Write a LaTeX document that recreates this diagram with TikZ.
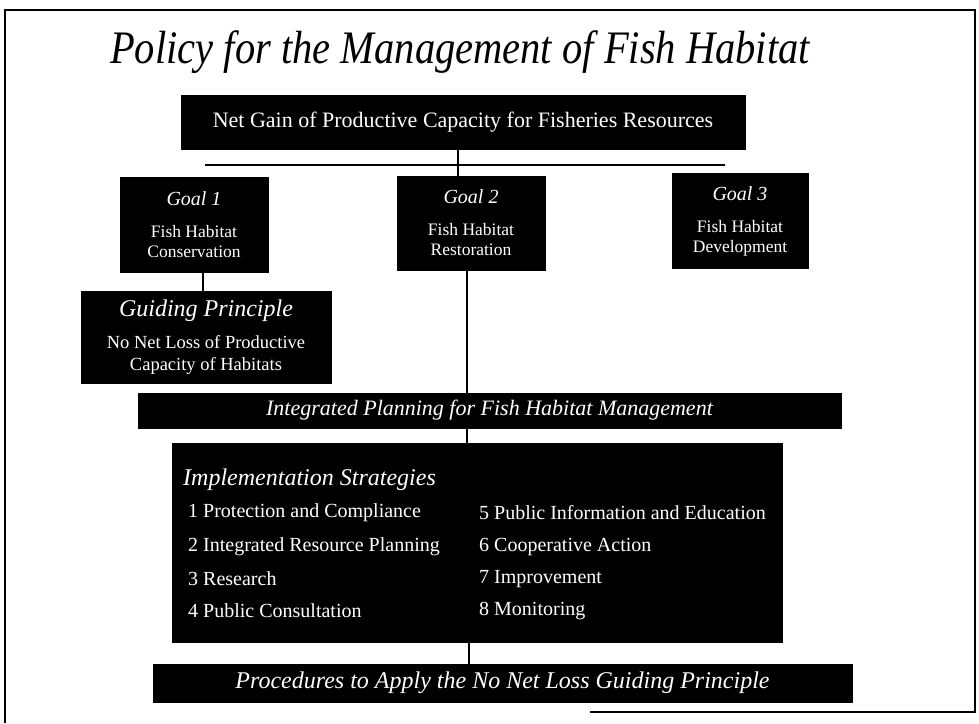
\documentclass[tikz,border=0pt]{standalone}
\usepackage{fontspec}
\setmainfont{Liberation Serif}
\tikzset{
  blk/.style={fill=black, draw=black, inner sep=0pt, text=white, align=center},
  itm/.style={anchor=west, text=white, inner sep=0pt, font=\fontsize{20}{22}\selectfont},
  link/.style={line width=1.3pt, draw=black},
  frm/.style={line width=1.5pt, draw=black},
}
\begin{document}
\begin{tikzpicture}[x=1pt,y=-1pt]
\useasboundingbox (0,0) rectangle (979,723);
\fill[white] (0,0) rectangle (979,723);
% frame
\coordinate (fTL) at (5,10);
\coordinate (fTR) at (975,10);
\coordinate (fBL) at (5,723);
\coordinate (fBR) at (975,712);
\coordinate (fBM) at (590,712);
\draw[frm] (fBL) -- (fTL) -- (fTR) -- (fBR) -- (fBM);
% title
\node[inner sep=0pt, font=\fontsize{40.5}{46}\selectfont\itshape, yscale=1.15] (title) at (460,52) {Policy for the Management of Fish Habitat};
% top box
\node[blk, minimum width=564pt, minimum height=54pt, font=\fontsize{22}{26}\selectfont] (top) at (463,122) {Net Gain of Productive Capacity for Fisheries Resources};
% goals
\node[blk, minimum width=148pt, minimum height=95pt, font=\fontsize{17.5}{20}\selectfont] (goal1) at (194,224.5)
  {{\fontsize{20}{22}\selectfont\itshape Goal 1}\\[12pt]Fish Habitat\\Conservation};
\node[blk, minimum width=148pt, minimum height=94pt, font=\fontsize{17.5}{20}\selectfont] (goal2) at (471,223)
  {{\fontsize{20}{22}\selectfont\itshape Goal 2}\\[12pt]Fish Habitat\\Restoration};
\node[blk, minimum width=136pt, minimum height=95pt, font=\fontsize{17.5}{20}\selectfont] (goal3) at (740,221)
  {{\fontsize{20}{22}\selectfont\itshape Goal 3}\\[12pt]Fish Habitat\\Development};
% guiding principle
\node[blk, minimum width=250pt, minimum height=92pt, font=\fontsize{18.5}{22}\selectfont] (guide) at (206,337)
  {{\fontsize{24}{26}\selectfont\itshape Guiding Principle}\\[10pt]No Net Loss of Productive\\Capacity of Habitats};
% integrated planning bar
\node[blk, minimum width=703pt, minimum height=35pt, font=\fontsize{22}{24}\selectfont\itshape] (integ) at (489.5,410.5)
  {Integrated Planning for Fish Habitat Management};
% implementation box
\node[blk, minimum width=610pt, minimum height=199pt] (impl) at (477,542.5) {};
\node[itm, font=\fontsize{24}{26}\selectfont\itshape] (ihead) at (183,480) {Implementation Strategies};
\node[itm] (s1) at (188,513) {1 Protection and Compliance};
\node[itm] (s2) at (188,547) {2 Integrated Resource Planning};
\node[itm] (s3) at (188,579) {3 Research};
\node[itm] (s4) at (188,611) {4 Public Consultation};
\node[itm] (s5) at (479,513) {5 Public Information and Education};
\node[itm] (s6) at (479,547) {6 Cooperative Action};
\node[itm] (s7) at (479,579) {7 Improvement};
\node[itm] (s8) at (479,611) {8 Monitoring};
% bottom bar
\node[blk, minimum width=699pt, minimum height=38pt, font=\fontsize{24}{26}\selectfont\itshape] (proc) at (502.5,683)
  {Procedures to Apply the No Net Loss Guiding Principle};
% connectors
\coordinate (hlL) at (205,165);
\coordinate (hlR) at (725,165);
\coordinate (hx) at (458,165);
\coordinate (g1x) at (203,0);
\coordinate (vx) at (467,0);
\coordinate (wx) at (469,0);
\draw[link] (hlL) -- (hlR);
\draw[link] (top.south -| hx) -- (goal2.north -| hx);
\draw[link] (goal1.south -| g1x) -- (guide.north -| g1x);
\draw[link] (goal2.south -| vx) -- (integ.north -| vx);
\draw[link] (integ.south -| vx) -- (impl.north -| vx);
\draw[link] (impl.south -| wx) -- (proc.north -| wx);
\end{tikzpicture}
\end{document}
